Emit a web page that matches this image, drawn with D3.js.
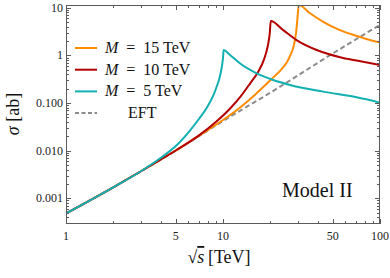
<!DOCTYPE html>
<html>
<head>
<meta charset="utf-8">
<script src="https://cdn.jsdelivr.net/npm/d3@7"></script>
<style>
  body { margin: 0; background: #fff; }
</style>
</head>
<body>
<svg id="chart" width="390" height="278" font-family="'Liberation Serif', 'DejaVu Serif', serif"></svg>
<script>
// values (sqrt(s) in TeV, sigma in ab)
const eftX = [1, 2, 5, 10, 20, 50, 100];
const eftY = [0.00048, 0.0017, 0.0100, 0.042, 0.165, 1.1, 4.4];

const m5X = [1, 2, 3, 4, 5, 6.16, 7.1, 7.87, 8.65, 9.1, 9.5, 9.8, 10.0, 10.1, 11, 12.8, 16.4, 20.9, 26.7, 43.5, 71, 100];
const m5Y = [0.00048, 0.0017, 0.0037, 0.0070, 0.0125, 0.0265, 0.0486, 0.079, 0.141, 0.218, 0.336, 0.546, 0.885, 1.3, 1.05, 0.685, 0.42, 0.305, 0.24, 0.174, 0.132, 0.102];

const m10X = [1, 2, 3, 4, 5, 7, 9, 11.1, 13, 14.9, 16.8, 18.3, 19.3, 19.85, 20.15, 24.2, 29.4, 39.5, 55.6, 71, 100];
const m10Y = [0.00048, 0.0017, 0.0037, 0.0065, 0.0101, 0.0207, 0.040, 0.077, 0.14, 0.26, 0.46, 0.85, 1.6, 2.9, 5.3, 3.4, 2.1, 1.3, 0.92, 0.78, 0.63];

const m15X = [1, 2, 3, 4, 5, 7, 10, 12.8, 16, 20.4, 23, 25.4, 27, 28.3, 29.2, 29.8, 30.4, 35.8, 43.5, 55.6, 71, 100];
const m15Y = [0.00048, 0.0017, 0.0037, 0.0065, 0.0100, 0.0205, 0.044, 0.08, 0.15, 0.32, 0.47, 0.70, 1.05, 1.65, 3.0, 6.0, 11.5, 7.7, 5.1, 3.4, 2.57, 1.86];

const xLabelTicks = [1, 5, 10, 50, 100];
const yLabelTicks = [0.001, 0.01, 0.1, 1, 10];
const yTickText = ["0.001", "0.010", "0.100", "1", "10"];

const legendNames = ["15", "10", "5"];
const colors = {m15: "#ff8c00", m10: "#b30000", m5: "#12b0b0", eft: "#8c8c8c"};

const svg = d3.select("#chart");
const pLeft = 66, pRight = 380, pTop = 5, pBottom = 224;

const x = d3.scaleLog().domain([1, 100]).range([pLeft, pRight]);
const y = d3.scaleLog().domain([Math.pow(10, -3.54), Math.pow(10, 1.06)]).range([pBottom, pTop]);

svg.append("defs").append("clipPath").attr("id", "clip")
  .append("rect").attr("x", pLeft).attr("y", pTop)
  .attr("width", pRight - pLeft).attr("height", pBottom - pTop);

const line = d3.line()
  .x(d => x(d[0]))
  .y(d => y(d[1]))
  .curve(d3.curveMonotoneX);

const zip = (xs, ys) => xs.map((v, i) => [v, ys[i]]);

const plot = svg.append("g").attr("clip-path", "url(#clip)");

// EFT under the others
plot.append("path").attr("d", line(zip(eftX, eftY)))
  .attr("fill", "none").attr("stroke", colors.eft)
  .attr("stroke-width", 2).attr("stroke-dasharray", "5,3");

[[m15X, m15Y, colors.m15], [m10X, m10Y, colors.m10], [m5X, m5Y, colors.m5]].forEach(([xs, ys, c]) => {
  plot.append("path").attr("d", line(zip(xs, ys)))
    .attr("fill", "none").attr("stroke", c)
    .attr("stroke-width", 2).attr("stroke-linejoin", "miter");
});

/* frame and ticks (inward, all four sides) */
const frameColor = "#5a5a5a";
const xMinor = [];
[1, 10].forEach(d => { for (let k = 2; k <= 9; k++) xMinor.push(d * k); });
const yMinor = [];
[0.0001, 0.001, 0.01, 0.1, 1, 10].forEach(d => { for (let k = 2; k <= 9; k++) yMinor.push(d * k); });

const ticks = svg.append("g").attr("stroke", frameColor).attr("stroke-width", 1);

xMinor.concat(xLabelTicks).forEach(v => {
  let len = xLabelTicks.includes(v) ? 5 : 3;
  let px = Math.round(x(v)) + 0.5;
  ticks.append("line").attr("x1", px).attr("x2", px).attr("y1", pBottom).attr("y2", pBottom - len);
  ticks.append("line").attr("x1", px).attr("x2", px).attr("y1", pTop).attr("y2", pTop + len);
});

yMinor.concat(yLabelTicks).forEach(v => {
  let py = y(v);
  if (py < pTop || py > pBottom) return;
  let len = yLabelTicks.includes(v) ? 5 : 3;
  py = Math.round(py) + 0.5;
  ticks.append("line").attr("x1", pLeft).attr("x2", pLeft + len).attr("y1", py).attr("y2", py);
  ticks.append("line").attr("x1", pRight).attr("x2", pRight - len).attr("y1", py).attr("y2", py);
});

svg.append("rect").attr("x", pLeft + 0.5).attr("y", pTop + 0.5)
  .attr("width", pRight - pLeft - 1).attr("height", pBottom - pTop - 1)
  .attr("fill", "none").attr("stroke", frameColor).attr("stroke-width", 1);

// tick labels
svg.append("g").selectAll("text").data(xLabelTicks).join("text")
  .attr("x", d => x(d)).attr("y", pBottom + 16)
  .attr("text-anchor", "middle").attr("font-size", 12).attr("fill", "#222")
  .text(d => d);

svg.append("g").selectAll("text").data(yLabelTicks).join("text")
  .attr("x", pLeft - 3).attr("y", d => y(d) + 4)
  .attr("text-anchor", "end").attr("font-size", 12).attr("fill", "#222")
  .text((d, i) => yTickText[i]);

// axis titles
const xt = svg.append("text").attr("x", 219).attr("y", 263)
  .attr("text-anchor", "middle").attr("font-size", 18).attr("fill", "#111");
xt.append("tspan").text("√");
xt.append("tspan").attr("font-style", "italic").style("text-decoration", "overline").text("s");
xt.append("tspan").text("\u2009[TeV]");

const yt = svg.append("text").attr("transform", "translate(19,114) rotate(-90)")
  .attr("text-anchor", "middle").attr("font-size", 18).attr("fill", "#111");
yt.append("tspan").attr("font-style", "italic").text("σ");
yt.append("tspan").text(" [ab]");

// legend
const legend = svg.append("g");
const legendColors = [colors.m15, colors.m10, colors.m5];
legendNames.forEach((m, i) => {
  let ly = 48 + i * 21.7;
  legend.append("line").attr("x1", 75).attr("x2", 97).attr("y1", ly).attr("y2", ly)
    .attr("stroke", legendColors[i]).attr("stroke-width", 2);
  let t = legend.append("text").attr("x", 105).attr("y", ly + 5)
    .attr("font-size", 16).attr("fill", "#111");
  t.append("tspan").attr("font-style", "italic").text("M");
  t.append("tspan").text("\u2002=\u2002" + m + " TeV");
});
legend.append("line").attr("x1", 75).attr("x2", 97).attr("y1", 113).attr("y2", 113)
  .attr("stroke", colors.eft).attr("stroke-width", 2).attr("stroke-dasharray", "4,2.5");
legend.append("text").attr("x", 128).attr("y", 118)
  .attr("font-size", 16).attr("fill", "#111").text("EFT");

svg.append("text").attr("x", 282).attr("y", 197)
  .attr("font-size", 20).attr("fill", "#111").text("Model II");
</script>
</body>
</html>
